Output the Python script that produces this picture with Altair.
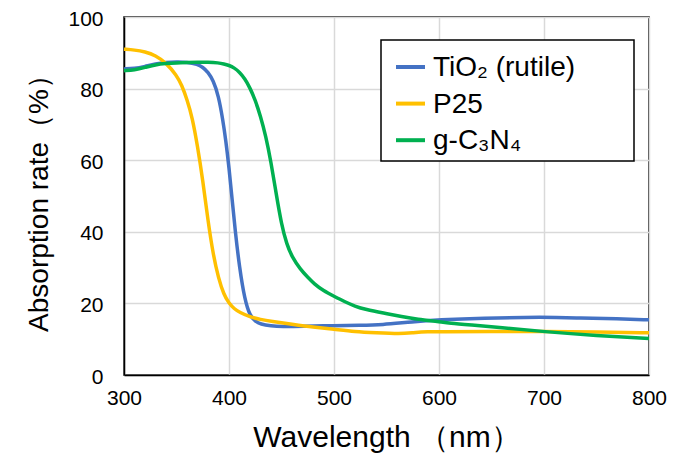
import altair as alt
import pandas as pd

series_names = ["TiO₂ (rutile)", "P25", "g-C₃N₄"]
series_colors = ["#4472C4", "#FFC000", "#00B050"]

tio2_wl = [300, 310, 320, 330, 340, 350, 360, 370, 375, 380, 385, 390, 394, 397, 400, 403, 406,
           410, 415, 420, 425, 430, 440, 450, 470, 500, 525, 545, 575, 600, 640, 700, 735, 770, 800]
tio2_val = [85.5, 85.6, 86.2, 86.9, 87.3, 87.5, 87.4, 86.8, 86.0, 84.6, 82.3, 78, 71.5, 65.5, 58, 49, 40,
            30, 21, 16.5, 15, 14.2, 13.7, 13.5, 13.6, 13.8, 13.9, 14.0, 14.9, 15.4, 15.9, 16.2, 15.9, 15.7, 15.4]

p25_wl = [300, 310, 320, 330, 340, 350, 355, 360, 365, 370, 375, 380, 385, 390, 395, 400, 405,
          410, 420, 430, 440, 460, 480, 500, 520, 540, 563, 575, 590, 600, 650, 700, 750, 800]
p25_val = [91, 90.8, 90.3, 89.3, 87.2, 83.8, 81, 77, 72, 64, 54.5, 43, 33.5, 27, 22.5, 20, 18.5,
           17.5, 16.2, 15.5, 15.0, 14.2, 13.4, 12.8, 12.1, 11.8, 11.5, 11.8, 12.1, 12.1, 12.1, 12.2, 12.0, 11.8]

gcn_wl = [300, 310, 320, 330, 340, 350, 360, 370, 380, 390, 395, 400, 405, 410, 415, 420, 425, 430, 435,
          440, 445, 450, 455, 460, 468, 475, 481, 490, 500, 510, 520, 530, 547, 565, 579, 600, 610, 630,
          658, 700, 750, 800]
gcn_val = [85.0, 85.2, 85.9, 86.7, 87.0, 87.2, 87.3, 87.4, 87.4, 87.2, 86.9, 86.5, 85.8, 84.6, 82.8, 80.2,
           76.8, 72.3, 66.8, 59.5, 50.5, 42, 36.5, 33, 29.5, 27.3, 25.5, 23.5, 22, 20.5, 19.2, 18.3, 17.3, 16.3,
           15.6, 14.9, 14.5, 14.0, 13.3, 12.1, 11.0, 10.2]

x_ticks = [300, 400, 500, 600, 700, 800]
y_ticks = [0, 20, 40, 60, 80, 100]

rows = []
for order, (name, wl, val) in enumerate(zip(series_names, [tio2_wl, p25_wl, gcn_wl], [tio2_val, p25_val, gcn_val])):
    for w, v in zip(wl, val):
        rows.append({"series": name, "wavelength": w, "absorption": v, "order": order})
df = pd.DataFrame(rows)

FONT = "Liberation Sans"

lines = alt.Chart(df).mark_line(strokeWidth=3.5, interpolate="basis").encode(
    x=alt.X("wavelength:Q",
            scale=alt.Scale(domain=[300, 800], nice=False, zero=False),
            axis=alt.Axis(values=x_ticks, title="Wavelength （nm）", format="d",
                          labelFlush=False, titleFontSize=30)),
    y=alt.Y("absorption:Q",
            scale=alt.Scale(domain=[0, 100], nice=False),
            axis=alt.Axis(values=y_ticks, title="Absorption rate（%）", labelFlush=False,
                          labelOffset=2, titleFontSize=28)),
    color=alt.Color("series:N",
                    scale=alt.Scale(domain=series_names, range=series_colors),
                    legend=None),
    order=alt.Order("order:Q"),
    detail="series:N",
)

# legend drawn inside the plot, top right
one = pd.DataFrame({"k": [0]})
box_x, box_y, box_w, box_h = 257, 23, 253, 121
row_y0, row_step = 50, 36.6
legend_layers = [
    alt.Chart(one).mark_rect(fill="white", stroke="black", strokeWidth=1.5).encode(
        x=alt.value(box_x), x2=alt.value(box_x + box_w),
        y=alt.value(box_y), y2=alt.value(box_y + box_h))
]
for i, (name, col) in enumerate(zip(series_names, series_colors)):
    yy = row_y0 + row_step * i
    legend_layers.append(
        alt.Chart(one).mark_rule(color=col, strokeWidth=4).encode(
            x=alt.value(box_x + 15), x2=alt.value(box_x + 44), y=alt.value(yy)))
    legend_layers.append(
        alt.Chart(one).mark_text(align="left", baseline="middle", font=FONT, fontSize=28,
                                 color="black").encode(
            x=alt.value(box_x + 52), y=alt.value(yy + 1), text=alt.value(name)))

chart = alt.layer(lines, *legend_layers).properties(
    width=525, height=358,
    padding={"left": 116, "top": 9, "right": 25, "bottom": 90},
    autosize=alt.AutoSizeParams(type="none"),
).configure_view(
    stroke="black", strokeWidth=1.5
).configure_axis(
    grid=True, gridColor="#d9d9d9", gridWidth=1.5,
    domainColor="black", domainWidth=1.5,
    ticks=False,
    labelFont=FONT, labelFontSize=21, labelColor="black",
    titleFont=FONT, titleFontWeight="normal", titleColor="black",
).configure_axisY(
    labelPadding=21, titlePadding=14
).configure_axisX(
    labelPadding=12, titlePadding=14
)

chart.save("out.html", embed_options={"renderer": "svg", "actions": False})
